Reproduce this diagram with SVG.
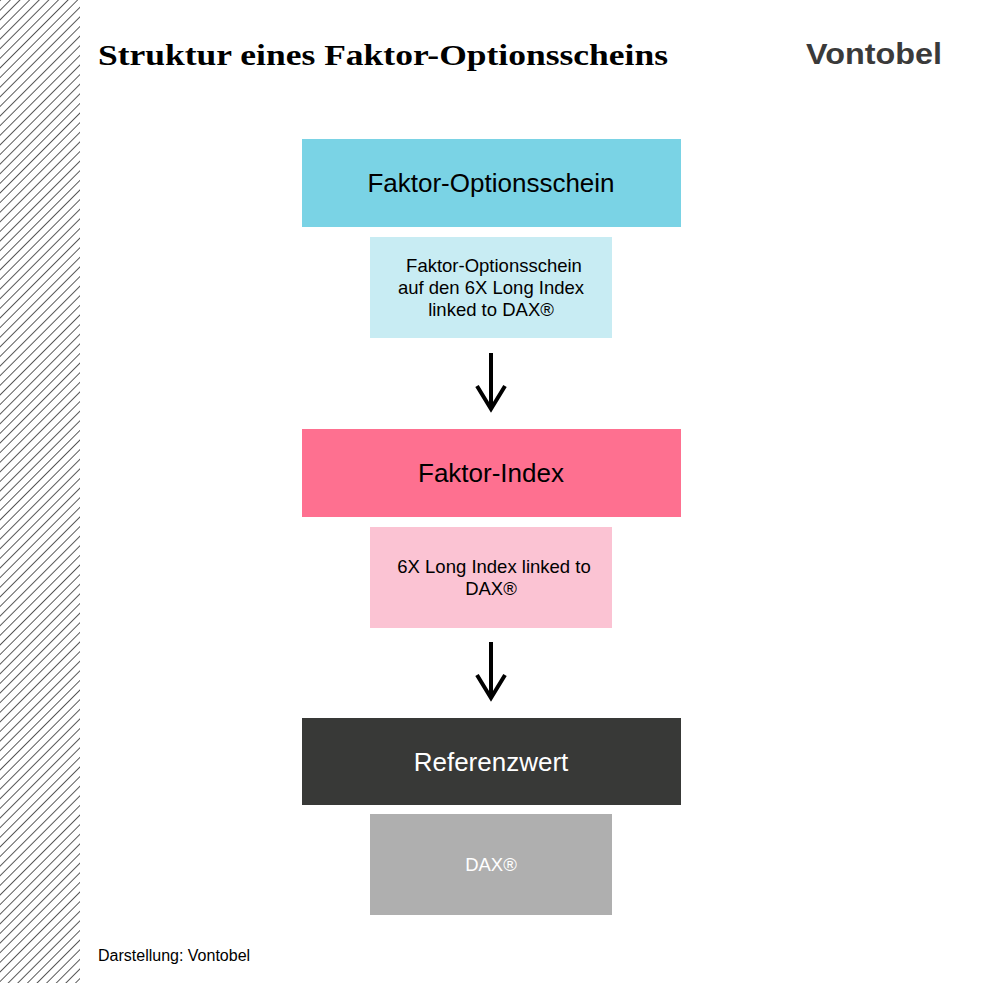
<svg xmlns="http://www.w3.org/2000/svg" width="983" height="983" viewBox="0 0 983 983">
<defs>
<pattern id="h" width="6.8" height="6.8" patternUnits="userSpaceOnUse" patternTransform="rotate(45)">
<line x1="0" y1="0" x2="0" y2="6.8" stroke="#222" stroke-width="1.5"/>
</pattern>
</defs>
<style>
.t{font-family:"Liberation Sans",Arial,sans-serif;text-anchor:middle}
.arr{stroke:#000;stroke-width:4;fill:none}
</style>
<rect width="983" height="983" fill="#fff"/>
<rect x="0" y="0" width="80" height="983" fill="url(#h)"/>
<text x="98" y="65" font-family="Liberation Serif,serif" font-weight="bold" font-size="29" fill="#000" textLength="570" lengthAdjust="spacingAndGlyphs">Struktur eines Faktor-Optionsscheins</text>
<text x="806" y="64" font-family="Liberation Sans,Arial,sans-serif" font-weight="bold" font-size="29" fill="#3a3a3a" textLength="136" lengthAdjust="spacingAndGlyphs">Vontobel</text>
<g id="n1">
<rect x="302" y="139" width="379" height="88" fill="#7ad3e5"/>
<text class="t" x="491" y="192" font-size="26">Faktor-Optionsschein</text>
</g>
<g id="n1b">
<rect x="370" y="237" width="242" height="101" fill="#c8ecf3"/>
<text class="t" font-size="18.5"><tspan x="494" y="272">Faktor-Optionsschein</tspan><tspan x="491" y="294">auf den 6X Long Index</tspan><tspan x="491" y="316">linked to DAX®</tspan></text>
</g>
<g id="n2">
<rect x="302" y="429" width="379" height="88" fill="#fe7090"/>
<text class="t" x="491" y="482" font-size="26">Faktor-Index</text>
</g>
<g id="n2b">
<rect x="370" y="527" width="242" height="101" fill="#fbc3d3"/>
<text class="t" font-size="18.5"><tspan x="494" y="573">6X Long Index linked to</tspan><tspan x="491" y="595">DAX®</tspan></text>
</g>
<g id="n3">
<rect x="302" y="718" width="379" height="87" fill="#383937"/>
<text class="t" x="491" y="771" font-size="26" fill="#fff">Referenzwert</text>
</g>
<g id="n3b">
<rect x="370" y="814" width="242" height="101" fill="#afafaf"/>
<text class="t" x="491" y="871" font-size="18.5" fill="#fff">DAX®</text>
</g>
<g id="connectors">
<path class="arr" d="M491 353V409M477 386L491 409L505 386"/>
<path class="arr" d="M491 642V698M477 675L491 698L505 675"/>
</g>
<text x="98" y="961" font-family="Liberation Sans,Arial,sans-serif" font-size="16" fill="#000">Darstellung: Vontobel</text>
</svg>
